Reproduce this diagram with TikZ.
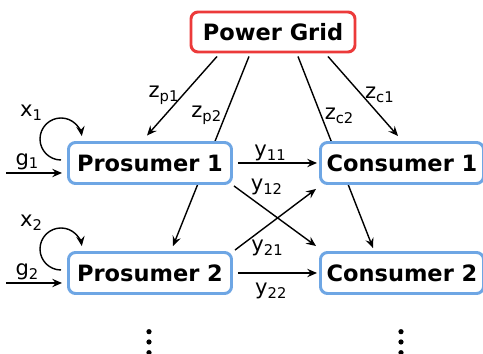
\documentclass[tikz,border=0pt]{standalone}
\usepackage{fontspec}
\setmainfont{DejaVu Sans}
\usepackage{tikz}
\usetikzlibrary{arrows.meta,calc,backgrounds}
\definecolor{gridred}{RGB}{236,58,58}
\definecolor{agentblue}{RGB}{110,166,228}
\tikzset{
  gridbox/.style={draw=gridred, line width=2.1pt, rounded corners=5pt, fill=white, minimum width=4.1cm, minimum height=1cm, font=\fontsize{16}{18}\selectfont\bfseries},
  agentbox/.style={draw=agentblue, line width=2.1pt, rounded corners=5pt, fill=white, minimum width=4.075cm, minimum height=1.025cm, font=\fontsize{16}{18}\selectfont\bfseries},
  flowarrow/.style={-{Stealth[length=7pt,width=6pt,inset=2.5pt]}, line width=1pt},
  flowlabel/.style={font=\fontsize{15}{17}\selectfont, inner sep=2pt}
}

\begin{document}
\begin{tikzpicture}[x=0.025cm, y=0.025cm]
\useasboundingbox (0,0) rectangle (483,-354);
\node[gridbox] (grid) at (273,-32) {Power Grid};
\node[agentbox] (p1) at (150,-163) {Prosumer 1};
\node[agentbox] (c1) at (402,-163) {Consumer 1};
\node[agentbox] (p2) at (150,-273) {Prosumer 2};
\node[agentbox] (c2) at (402,-273) {Consumer 2};
\begin{scope}[on background layer]
% grid supply
\draw[flowarrow] ($(grid.south)+(-56,-3)$) -- node[flowlabel, left, pos=0.49] {z\textsubscript{p1}} ($(p1.north)+(-3,5.5)$);
\draw[flowarrow] ($(grid.south)+(-24,-3)$) -- node[flowlabel, left, pos=0.31] {z\textsubscript{p2}} ($(p2.north)+(23,5)$);
\draw[flowarrow] ($(grid.south)+(25,-3)$) -- node[flowlabel, right, pos=0.31] {z\textsubscript{c2}} ($(c2.north)+(-29,3)$);
\draw[flowarrow] ($(grid.south)+(55,-3)$) -- node[flowlabel, right, pos=0.48] {z\textsubscript{c1}} ($(c1.north)+(-4,5)$);
% trades
\draw[flowarrow] ($(p1.east)+(5,0)$) -- node[flowlabel, above, pos=0.41, inner sep=1pt] {y\textsubscript{11}} ($(c1.west)+(-2,0)$);
\draw[flowarrow] ($(p1.south east)+(1,-1)$) -- node[flowlabel, pos=0.4, yshift=0.575cm] {y\textsubscript{12}} ($(c2.north west)+(-3,5)$);
\draw[flowarrow] ($(p2.north east)+(2,1)$) -- node[flowlabel, pos=0.4, yshift=-0.55cm] {y\textsubscript{21}} ($(c1.south west)+(-3,-4)$);
\draw[flowarrow] ($(p2.east)+(5,0)$) -- node[flowlabel, below=0.15cm, pos=0.42] {y\textsubscript{22}} ($(c2.west)+(-2,0)$);
\end{scope}
% storage and generation
\foreach \i in {1,2} {
  \draw[flowarrow] ($(p\i.west)+(-6,3)$) arc[start angle=-90, end angle=-225, radius=0.525cm]
    node[flowlabel, anchor=south east] {x\textsubscript{\i}}
    arc[start angle=-225, end angle=-352, radius=0.525cm];
  \draw[flowarrow] ($(p\i.west)+(-61,-10)$) -- node[flowlabel, above, pos=0.38] {g\textsubscript{\i}} ($(p\i.west)+(-5,-10)$);
}
\foreach \n/\dx in {p2/-1,c2/-1} {
  \foreach \dy in {36.7,47,57.7}
    \fill ($(\n.south)+(\dx,-\dy)$) circle[radius=0.065cm];
}
\end{tikzpicture}
\end{document}
